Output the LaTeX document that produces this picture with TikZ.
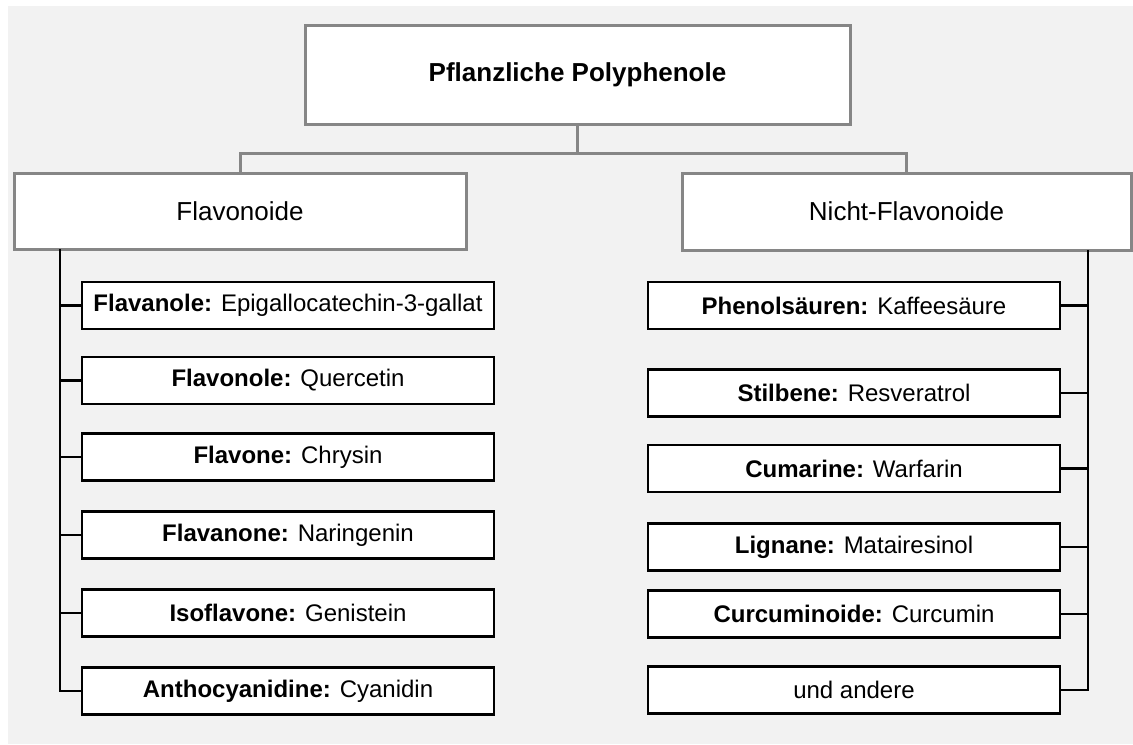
\documentclass[tikz,border=0pt]{standalone}
\usepackage{fontspec}
\setmainfont{Liberation Sans}
\definecolor{bggray}{RGB}{242,242,242}
\definecolor{linegray}{RGB}{134,134,134}
\begin{document}
\begin{tikzpicture}
	[	x=0.75pt,y=-0.75pt,
	head/.style={rectangle,draw=linegray,line width=2.25pt,fill=white,inner sep=0pt,outer sep=0pt,font=\fontsize{19.5}{22}\selectfont},
	item/.style={rectangle,draw=black,line width=1.8pt,fill=white,minimum width=309pt,minimum height=35.25pt,inner sep=0pt,outer sep=0pt,font=\fontsize{18}{20}\selectfont},
	link/.style={draw=linegray,line width=2.25pt},
	branch/.style={draw=black,line width=1.7pt}
	]
	\useasboundingbox (0,0) rectangle (1133,744);
	\fill[bggray] (8,6) rectangle (1133,744);

	\node[head,minimum width=408.75pt,minimum height=74.25pt] (top) at (577.5,74.5){\textbf{Pflanzliche Polyphenole}};
	\node[head,minimum width=339pt,minimum height=57pt] (flav) at (240,211){Flavonoide};
	\node[head,minimum width=336.75pt,minimum height=57.75pt] (nflav) at (906.5,211.5){Nicht-Flavonoide};

	\coordinate (split) at (577.5,153);
	\draw[link] (top.south) -- (split);
	\draw[link] (flav.north) |- (split) -| (nflav.north);

% Flavonoide
	\node[item] (f1) at (288,305.5){\textbf{Flavanole:} Epigallocatechin-3-gallat};
	\node[item] (f2) at (288,380.5){\textbf{Flavonole:} Quercetin};
	\node[item] (f3) at (288,457){\textbf{Flavone:} Chrysin};
	\node[item] (f4) at (288,535){\textbf{Flavanone:} Naringenin};
	\node[item] (f5) at (288,613){\textbf{Isoflavone:} Genistein};
	\node[item] (f6) at (288,691){\textbf{Anthocyanidine:} Cyanidin};

% Nicht-Flavonoide
	\node[item] (n1) at (854,305.5){\textbf{Phenolsäuren:} Kaffeesäure};
	\node[item] (n2) at (854,393){\textbf{Stilbene:} Resveratrol};
	\node[item] (n3) at (854,468.5){\textbf{Cumarine:} Warfarin};
	\node[item] (n4) at (854,547){\textbf{Lignane:} Matairesinol};
	\node[item] (n5) at (854,614){\textbf{Curcuminoide:} Curcumin};
	\node[item] (n6) at (854,690){und andere};

	\coordinate (ltop) at (60,249);
	\coordinate (rtop) at (1088,250);
	\draw[branch] (ltop) |- (f6.west);
	\draw[branch] (rtop) |- (n6.east);
	\foreach \i in {1,...,5}{
		\draw[branch] (f\i.west) -- (f\i.west -| ltop);
		\draw[branch] (n\i.east) -- (n\i.east -| rtop);
	}
\end{tikzpicture}
\end{document}
